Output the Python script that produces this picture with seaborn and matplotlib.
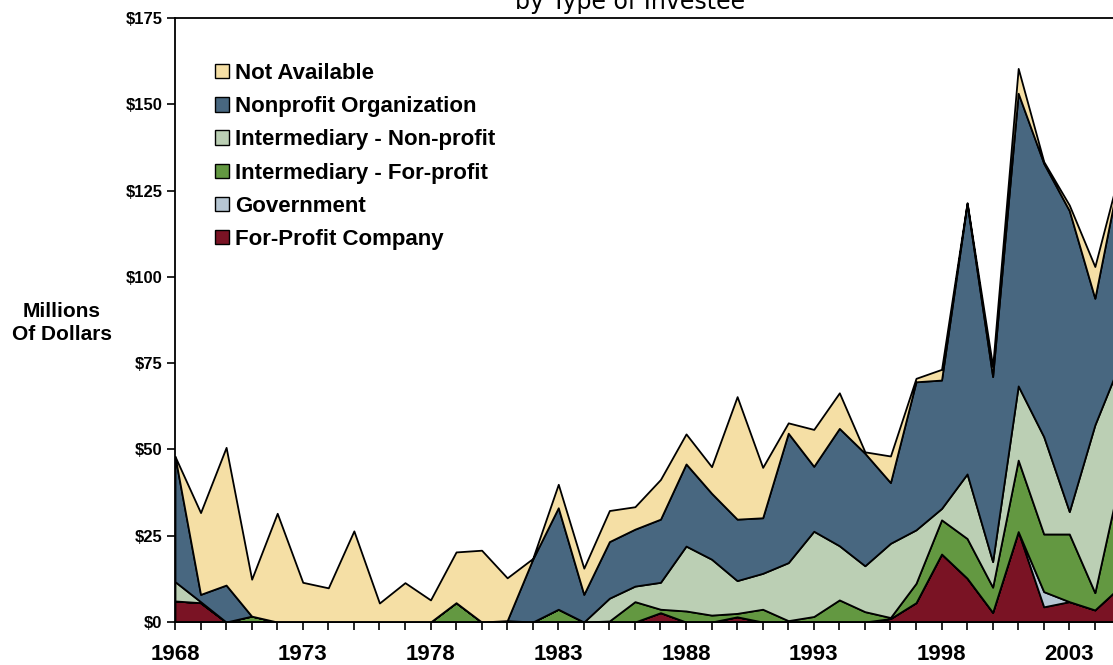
import matplotlib
matplotlib.use("Agg")
import matplotlib.pyplot as plt
import seaborn as sns
import pandas as pd
from matplotlib.patches import Patch

years = list(range(1968, 2006))

series_names = ["For-Profit Company", "Government", "Intermediary - For-profit",
                "Intermediary - Non-profit", "Nonprofit Organization", "Not Available"]
series_colors = ["#7A1324", "#B6C6D3", "#639841", "#BBCFB4", "#486780", "#F5DFA5"]

for_profit = [6.1, 5.6, 0, 0, 0, 0, 0, 0, 0, 0, 0, 0, 0, 0, 0, 0, 0, 0, 0, 2.7,
              0, 0, 1.5, 0, 0, 0, 0, 0, 1.0, 5.6, 19.7, 12.7, 2.8, 26.2, 4.4, 5.9, 3.5, 10.3]
government = [0, 0, 0, 0, 0, 0, 0, 0, 0, 0, 0, 0, 0, 0, 0, 0, 0, 0, 0, 0,
              0, 0, 0, 0, 0, 0, 0, 0, 0, 0, 0, 0, 0, 0, 4.4, 0, 0, 0]
interm_for_profit = [0, 0, 0, 1.7, 0, 0, 0, 0, 0, 0, 0, 5.6, 0, 0.4, 0, 3.7, 0, 0.3, 5.9, 1.0,
                     3.2, 2.0, 1.0, 3.7, 0.4, 1.6, 6.4, 3.0, 0.3, 5.6, 9.9, 11.5, 7.3, 20.7, 16.7, 19.6, 5.0, 31.9]
interm_non_profit = [5.6, 0.3, 0, 0, 0, 0, 0, 0, 0, 0, 0, 0, 0, 0, 0, 0, 0, 6.6, 4.5, 7.8,
                     18.8, 16.2, 9.5, 10.4, 16.8, 24.7, 15.7, 13.3, 21.5, 15.5, 3.3, 18.7, 7.4, 21.5, 28.2, 6.5, 48.6, 33.2]
nonprofit_org = [36.3, 2.1, 10.7, 0, 0, 0, 0, 0, 0, 0, 0, 0, 0, 0, 18.2, 29.4, 8.0, 16.4, 16.5, 18.3,
                 23.8, 19.1, 17.8, 16.1, 37.5, 18.8, 34.0, 32.6, 17.6, 42.9, 37.2, 78.4, 53.6, 84.8, 79.2, 87.2, 36.7, 55.6]
not_available = [0, 23.7, 39.9, 10.7, 31.5, 11.5, 9.9, 26.4, 5.5, 11.4, 6.4, 14.7, 20.8, 12.4, 0.2, 6.8, 7.6, 9.0, 6.5, 11.5,
                 8.7, 7.7, 35.5, 14.6, 3.0, 10.7, 10.3, 0.4, 7.7, 1.0, 3.1, 0.2, 3.0, 7.2, 0.5, 1.6, 9.2, 0.5]

y_ticks = [0, 25, 50, 75, 100, 125, 150, 175]
x_label_years = [1968, 1973, 1978, 1983, 1988, 1993, 1998, 2003]

df = pd.DataFrame({
    "year": years,
    series_names[0]: for_profit,
    series_names[1]: government,
    series_names[2]: interm_for_profit,
    series_names[3]: interm_non_profit,
    series_names[4]: nonprofit_org,
    series_names[5]: not_available,
})

sns.set_theme(style="white")
plt.rcParams["font.family"] = ["Liberation Sans", "DejaVu Sans"]
plt.rcParams["text.color"] = "black"
plt.rcParams["axes.labelcolor"] = "black"
plt.rcParams["xtick.color"] = "black"
plt.rcParams["ytick.color"] = "black"

W, H = 1113, 665
fig = plt.figure(figsize=(W / 100, H / 100), dpi=100)
fig.patch.set_facecolor("white")
ax = fig.add_axes([175 / W, 1 - 622 / H, (1120.4 - 175) / W, (622 - 18) / H])

ax.stackplot(df["year"], [df[n] for n in series_names], colors=series_colors,
             edgecolor="black", linewidth=1.3)

ax.set_xlim(1968, 2005)
ax.set_ylim(0, 175)
ax.set_yticks(y_ticks)
ax.set_yticklabels([f"${v}" for v in y_ticks], fontsize=12, fontweight="bold", color="black")
ax.set_xticks(years)
ax.set_xticklabels([str(y) if y in x_label_years else "" for y in years],
                   fontsize=16, fontweight="bold", color="black")
ax.tick_params(axis="x", direction="out", length=6, width=1.2, color="black", pad=10, bottom=True)
ax.tick_params(axis="y", direction="out", length=6, width=1.2, color="black", pad=3, left=True)

for side in ["left", "top", "bottom"]:
    ax.spines[side].set_visible(True)
    ax.spines[side].set_color("black")
    ax.spines[side].set_linewidth(1.3)
ax.spines["right"].set_visible(False)
ax.grid(False)
ax.set_facecolor("white")

fig.text(62 / W, 1 - 323 / H, "Millions\nOf Dollars", ha="center", va="center",
         fontsize=15, fontweight="bold", linespacing=1.25, color="black")

fig.text(630 / W, 1 - 9 / H, "by Type of Investee", ha="center", va="baseline",
         fontsize=17, family="DejaVu Sans", color="black")

handles = [Patch(facecolor=c, edgecolor="black", linewidth=1.0, label=n)
           for n, c in zip(series_names, series_colors)][::-1]
leg = ax.legend(handles=handles, loc="upper left",
                bbox_to_anchor=(215 / W, 1 - 63 / H), bbox_transform=fig.transFigure,
                frameon=False, borderpad=0, borderaxespad=0,
                handlelength=0.62, handleheight=0.62, handletextpad=0.3,
                labelspacing=0.55, prop={"weight": "bold", "size": 16})
for t in leg.get_texts():
    t.set_color("black")

fig.savefig("out.png", dpi=100)
